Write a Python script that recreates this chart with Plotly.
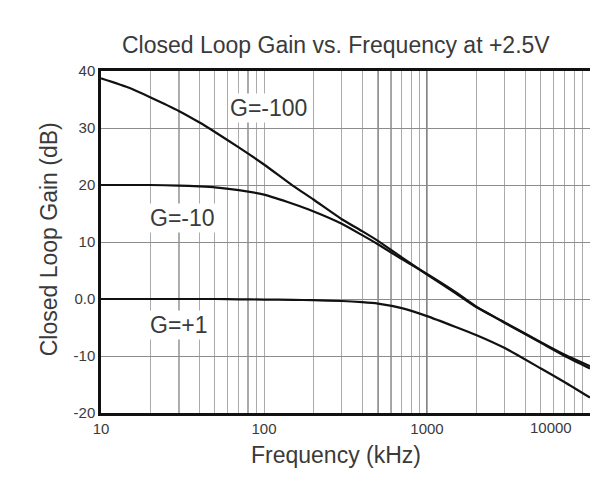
import math

import plotly.graph_objects as go

# frequency points (kHz) and closed loop gain (dB)
freq_khz = [10, 15, 20, 30, 40, 50, 70, 100, 150, 200, 300, 400, 500, 700,
            1000, 1500, 2000, 3000, 5000, 7000, 10000]
gain_m100 = [38.7, 37.0, 35.4, 33.0, 31.0, 29.3, 26.6, 23.6, 19.9, 17.5, 14.0,
             11.9, 10.2, 7.3, 4.3, 1.0, -1.4, -4.1, -7.6, -9.8, -11.8]
gain_m10 = [20.0, 20.0, 20.0, 19.9, 19.75, 19.6, 19.1, 18.3, 16.7, 15.4, 13.2,
            11.2, 9.6, 7.0, 4.4, 1.2, -1.3, -4.2, -7.7, -10.0, -12.2]
gain_p1 = [0.0, 0.0, 0.0, 0.0, 0.0, 0.0, -0.05, -0.1, -0.15, -0.2, -0.35,
           -0.55, -0.8, -1.6, -3.0, -4.9, -6.3, -8.6, -12.2, -14.6, -17.3]

curve_names = ["G=-100", "G=-10", "G=+1"]
label_x = [107, 31.5, 30]
label_y = [33.5, 14.2, -4.6]

x_grid = [10, 20, 30, 40, 50, 60, 70, 80, 90,
          100, 200, 300, 400, 500, 600, 700, 800, 900,
          1000, 2000, 3000, 4000, 5000, 6000, 7000, 8000, 9000, 10000]
x_labels = ["10", "100", "1000"]
last_label = "10000"
dark_grid = [30, 80, 500, 600, 1000]
y_ticks = [-20, -10, 0, 10, 20, 30, 40]
y_labels = ["-20", "-10", "0.0", "10", "20", "30", "40"]

FONT = "Liberation Sans, Arial, sans-serif"
TEXT = "#3a3a3a"

fig = go.Figure()
for gains in [gain_m100, gain_m10, gain_p1]:
    fig.add_trace(go.Scatter(
        x=freq_khz, y=gains, mode="lines",
        line=dict(color="#111111", width=2.2, shape="spline", smoothing=0.5),
        showlegend=False, hoverinfo="skip",
    ))

for f in dark_grid:
    fig.add_shape(type="line", xref="x", yref="paper", x0=f, x1=f, y0=0, y1=1,
                  line=dict(color="#555555", width=1.4), layer="below")

# annotations on a log axis take log10 positions
for name, lx, ly in zip(curve_names, label_x, label_y):
    fig.add_annotation(x=math.log10(lx), y=ly, xref="x", yref="y",
                       text=name, showarrow=False, bgcolor="white",
                       font=dict(family=FONT, size=23, color=TEXT))

# the last decade label sits a little inside the right edge
fig.add_annotation(text=last_label, xref="paper", yref="paper",
                   x=0.967, y=-0.074, showarrow=False,
                   font=dict(family=FONT, size=15, color=TEXT))

fig.add_annotation(text="Closed Loop Gain vs. Frequency at +2.5V",
                   xref="paper", yref="paper", x=0.480, y=1.120,
                   showarrow=False, font=dict(family=FONT, size=23, color=TEXT))
fig.add_annotation(text="Frequency (kHz)", xref="paper", yref="paper",
                   x=0.480, y=-0.166, showarrow=False,
                   font=dict(family=FONT, size=23, color=TEXT))
fig.add_annotation(text="Closed Loop Gain (dB)", xref="paper", yref="paper",
                   x=-0.137, y=0.508, textangle=-90, showarrow=False,
                   font=dict(family=FONT, size=23, color=TEXT))

tick_text = [str(v) if str(v) in x_labels else "" for v in x_grid]

fig.update_layout(
    width=598, height=482,
    margin=dict(l=93, r=16, t=63, b=77),
    paper_bgcolor="white", plot_bgcolor="white",
    font=dict(family=FONT, color=TEXT),
    xaxis=dict(
        type="log", range=[1, 4],
        tickvals=x_grid, ticktext=tick_text,
        showgrid=True, gridcolor="#ababab", gridwidth=1.2,
        showline=True, mirror=True, linecolor="#111111", linewidth=2.5,
        ticks="", tickfont=dict(size=15, color=TEXT), zeroline=False,
    ),
    yaxis=dict(
        range=[-20, 40], tickvals=y_ticks, ticktext=y_labels,
        showgrid=True, gridcolor="#8c8c8c", gridwidth=1.2,
        showline=True, mirror=True, linecolor="#111111", linewidth=2.5,
        ticks="", tickfont=dict(size=15, color=TEXT), zeroline=False,
    ),
)

fig.write_html("out.html")
